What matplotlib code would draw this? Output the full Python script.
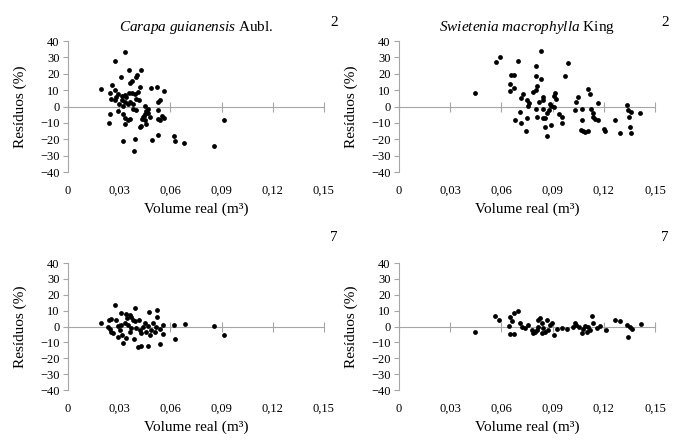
import matplotlib.pyplot as plt

plt.rcParams['font.family'] = ['Liberation Serif', 'DejaVu Serif']
plt.rcParams['mathtext.fontset'] = 'custom'
plt.rcParams['mathtext.rm'] = 'Liberation Serif'
plt.rcParams['mathtext.it'] = 'Liberation Serif:italic'

# Carapa guianensis, equation 2
car2_vol = [0.0337, 0.0276, 0.036, 0.0427, 0.0406, 0.0398, 0.0312, 0.0378, 0.0365, 0.0192,
            0.0259, 0.0421, 0.0488, 0.052, 0.056, 0.0245, 0.0274, 0.0294, 0.0255, 0.0274,
            0.0314, 0.0333, 0.0359, 0.0376, 0.039, 0.041, 0.0314, 0.0333, 0.0349, 0.0365,
            0.038, 0.030, 0.032, 0.054, 0.0525, 0.045, 0.047, 0.046, 0.045, 0.047,
            0.044, 0.0435, 0.045, 0.0529, 0.0525, 0.054, 0.056, 0.0294, 0.032, 0.0337,
            0.0353, 0.0365, 0.0245, 0.0239, 0.0337, 0.0421, 0.043, 0.046, 0.0525, 0.049,
            0.039, 0.0325, 0.0386, 0.0619, 0.0627, 0.068, 0.0856, 0.0917, 0.0284, 0.0343,
            0.040, 0.0416, 0.038, 0.040, 0.0447, 0.048, 0.055]
car2_res = [33.6, 27.5, 22, 22, 19.3, 18, 18, 15.5, 14.5, 10.8,
            13.2, 11.8, 11.2, 12.2, 9.4, 8.1, 9.8, 7.7, 4.7, 4.1,
            6.7, 7.3, 8.1, 8.3, 7.7, 8.8, 3.7, 2.6, 1.6, 2.6,
            1.6, 1.6, 0.6, 3.7, 2.6, 0.2, -1.4, -2.9, -4.5, -4.1,
            -6.5, -7.7, -8.5, -2.0, -7.5, -8.5, -6.9, -2.9, -4.5, -6.9,
            -8.1, -7.5, -4.5, -10, -10.6, -12.6, -12.2, -10.6, -17.3, -20.2,
            -19.8, -20.8, -26.9, -17.7, -21.2, -22.4, -24.4, -8.5, 6.1, 5.7,
            4.7, 3.7, -1.4, -2.4, -5.5, -6.1, -5.5]

# Swietenia macrophylla, equation 2
swi2_vol = [0.0447, 0.0568, 0.059, 0.0695, 0.0834, 0.080, 0.0988, 0.097, 0.0656, 0.0673,
            0.065, 0.0671, 0.0652, 0.0802, 0.083, 0.081, 0.0802, 0.0787, 0.0728, 0.0712,
            0.0748, 0.0763, 0.0845, 0.0845, 0.082, 0.0914, 0.091, 0.092, 0.0888, 0.088,
            0.0869, 0.0802, 0.0845, 0.0709, 0.0748, 0.0681, 0.0716, 0.0744, 0.0806, 0.0841,
            0.0853, 0.0892, 0.0853, 0.0867, 0.0935, 0.0955, 0.0953, 0.103, 0.104, 0.105,
            0.1072, 0.1072, 0.1066, 0.1076, 0.109, 0.1109, 0.1109, 0.1119, 0.1125, 0.1134,
            0.1148, 0.1138, 0.1164, 0.1164, 0.1203, 0.1209, 0.1265, 0.1296, 0.1334, 0.1343,
            0.1357, 0.1347, 0.1353, 0.1357, 0.1414, 0.0757, 0.0884, 0.0908]
swi2_res = [8.4, 27.1, 30.1, 27.7, 34.2, 25, 26.7, 18.9, 19.1, 19.5,
            13.8, 11.4, 9.4, 18.7, 16.7, 12.8, 9.8, 8.8, 7.7, 5.3,
            3.7, 2.0, 6.1, 3.7, 2.6, 8.1, 6.7, 4.7, 0.6, -2.4,
            -4.1, -1.4, -1.4, -3.5, -6.9, -8.5, -9.8, -14.7, -6.5, -7.3,
            -6.9, -11.2, -12.6, -18.3, -4.5, -6.1, -10.2, -2.4, 2.6, 6.1,
            -1.4, -8.5, -14.3, -15.1, -15.3, -14.7, 10.8, 7.7, -1.4, -4.1,
            -7.5, -6.1, -8.5, 2.0, -13.6, -15.1, -8.1, -16.3, 1.0, -2.4,
            -3.5, -6.1, -12.6, -16.1, -3.9, 0.6, 1.6, -0.4]

# Carapa guianensis, equation 7
car7_vol = [0.0275, 0.039, 0.0523, 0.0475, 0.0312, 0.0342, 0.0361, 0.0371, 0.0523, 0.0498,
            0.0195, 0.0238, 0.0254, 0.0283, 0.0557, 0.0621, 0.0684, 0.0855, 0.0916, 0.0625,
            0.0557, 0.0244, 0.0254, 0.0264, 0.0303, 0.0318, 0.0322, 0.0342, 0.0387, 0.0412,
            0.0426, 0.0469, 0.0541, 0.040, 0.042, 0.044, 0.0459, 0.0478, 0.0352, 0.0371,
            0.0332, 0.039, 0.0414, 0.0449, 0.0518, 0.0537, 0.0293, 0.0312, 0.0361, 0.043,
            0.0293, 0.0348, 0.038, 0.0488, 0.051, 0.0234, 0.0469]
car7_res = [13.4, 11.6, 10.5, 9.0, 8.8, 8.0, 7.4, 6.3, 5.9, 2.5,
            2.3, 4.2, 4.6, 3.8, 1.1, 1.1, 1.5, 0.6, -5.5, -8.0,
            -4.6, -1.7, -3.2, -4.2, -2.1, -5.3, -10.5, -7.4, -7.6, -12.6,
            -12.0, -12.0, -11.1, -1.1, -2.1, 0, -3.2, -5.3, 1.1, -1.1,
            2.1, 3.2, 3.8, 2.1, 0, -1.7, 0.4, 1.1, -3.2, -4.2,
            -6.3, 5.3, 4.2, -2.1, -3.2, 0, 0.4]

# Swietenia macrophylla, equation 7
swi7_vol = [0.0447, 0.0562, 0.0587, 0.065, 0.0675, 0.0695, 0.0664, 0.0646, 0.065, 0.0673,
            0.0709, 0.0718, 0.0738, 0.0757, 0.0777, 0.0796, 0.0816, 0.0826, 0.0835, 0.0845,
            0.0865, 0.0884, 0.0894, 0.0908, 0.0923, 0.0953, 0.0982, 0.103, 0.104, 0.1056,
            0.107, 0.1089, 0.1109, 0.1128, 0.1138, 0.1158, 0.1177, 0.1212, 0.1265, 0.1294,
            0.1334, 0.1353, 0.1363, 0.1339, 0.1421, 0.0806, 0.0787, 0.0855, 0.0875, 0.108,
            0.1099, 0.1119, 0.0816, 0.0835, 0.102]
swi7_res = [-3.6, 6.9, 4.2, 6.3, 8.8, 9.9, 3.2, 0.4, -4.6, -4.6,
            2.1, 0, -1.1, 1.1, -2.1, -3.2, 4.2, 5.3, 2.1, -1.1,
            3.8, 1.1, 2.1, -5.3, -1.7, -1.1, -1.7, 2.5, 1.1, 0,
            -4.2, 0.4, -0.4, 6.7, 2.1, -1.1, 0.4, -2.1, 4.2, 3.2,
            1.1, 0, -1.7, -6.7, 1.7, -2.1, -4.2, -3.2, -2.1, -1.7,
            -3.2, -2.1, 0, -4.2, 0]

x_ticks = [0, 0.03, 0.06, 0.09, 0.12, 0.15]
x_labels = ['0', '0,03', '0,06', '0,09', '0,12', '0,15']
y_ticks = [-40, -30, -20, -10, 0, 10, 20, 30, 40]

panels = [
    (car2_vol, car2_res, r'$\mathit{Carapa\ guianensis}$ Aubl.', '2', [0.0988, 0.6117, 0.372, 0.2957], 1.145),
    (swi2_vol, swi2_res, r'$\mathit{Swietenia\ macrophylla}$ King', '2', [0.580, 0.6117, 0.372, 0.2957], 1.145),
    (car7_vol, car7_res, '', '7', [0.0988, 0.1196, 0.372, 0.2867], 1.197),
    (swi7_vol, swi7_res, '', '7', [0.580, 0.1196, 0.372, 0.2867], 1.197),
]

fig = plt.figure(figsize=(6.88, 4.43), dpi=100)
gray = '#a6a6a6'

for vol, res, title, eq, pos, eq_y in panels:
    ax = fig.add_axes(pos)
    ax.scatter(vol, res, s=12, color='black', linewidths=0, zorder=3)
    ax.set_xlim(0, 0.15)
    ax.set_ylim(-40, 40)

    ax.spines['top'].set_visible(False)
    ax.spines['right'].set_visible(False)
    ax.spines['left'].set_color(gray)
    ax.spines['bottom'].set_color(gray)
    ax.spines['bottom'].set_position(('data', 0))

    ax.set_yticks(y_ticks)
    ax.tick_params(axis='y', direction='out', length=3.5, color=gray, labelsize=9, pad=2.5)
    ax.set_xticks(x_ticks)
    ax.tick_params(axis='x', direction='inout', length=7, color=gray, labelbottom=False)

    sec = ax.secondary_xaxis(0)
    sec.set_xticks(x_ticks)
    sec.set_xticklabels(x_labels)
    sec.spines['bottom'].set_visible(False)
    sec.tick_params(length=0, labelsize=9, pad=9)
    sec.set_xlabel('Volume real (m³)', fontsize=11, labelpad=4)

    ax.set_ylabel('Resíduos (%)', fontsize=11)
    ax.yaxis.set_label_coords(-0.16, 0.5)

    if title:
        ax.set_title(title, fontsize=11, pad=7)
    ax.text(1.04, eq_y, eq, transform=ax.transAxes, fontsize=11, ha='center', va='center')

plt.savefig('out.png', dpi=100)
